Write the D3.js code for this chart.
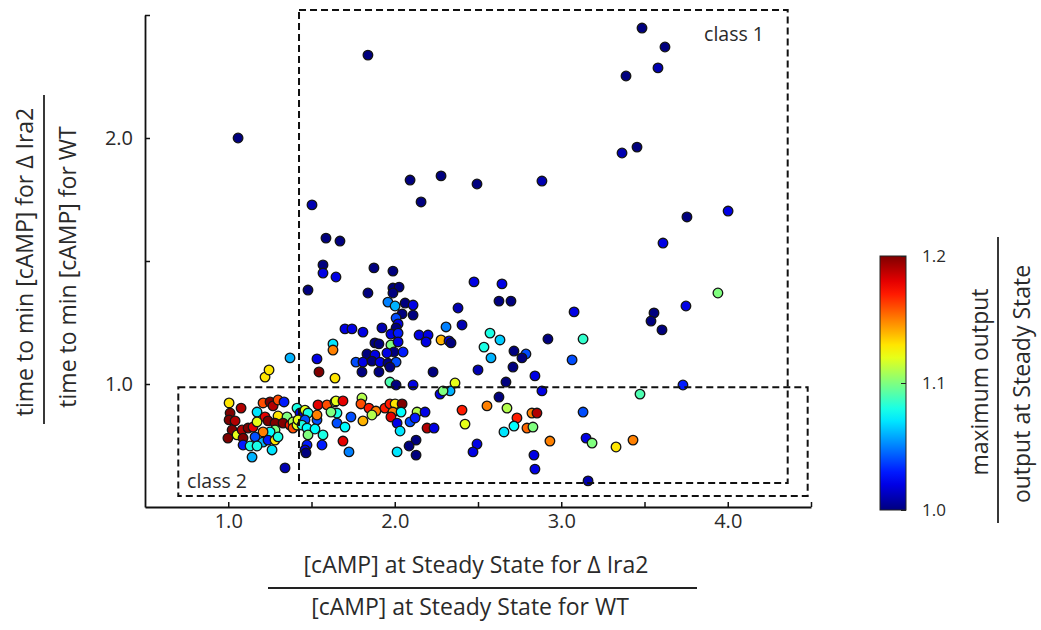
<!DOCTYPE html>
<html>
<head>
<meta charset="utf-8">
<script src="https://cdn.jsdelivr.net/npm/d3@7"></script>
<style>
  body { margin: 0; background: #fff; }
  text { font-family: "Open Sans", sans-serif; fill: #2a2a2a; }
</style>
</head>
<body>
<script>
// ratio of [cAMP] at steady state (dIra2 / WT)
const xVals = [
  1.059, 1.839, 1.503, 1.587, 1.671, 2.092, 2.158, 2.278, 2.494, 2.884,
  3.485, 3.623, 3.581, 3.389, 3.365, 3.455, 3.755, 4.002, 3.611, 2.476,
  2.644, 2.626, 2.698, 2.380, 2.404, 2.308, 2.278, 2.326, 2.338, 2.146,
  2.200, 2.188, 2.572, 2.536, 2.632, 2.578, 2.716, 2.788, 2.764, 2.710,
  2.920, 3.077, 3.131, 3.065, 2.230, 2.500, 2.668, 2.842, 2.110, 2.362,
  2.272, 2.332, 2.884, 2.626, 3.473, 3.731, 3.749, 3.557, 3.539, 3.605,
  3.941, 2.404, 2.422, 2.554, 2.674, 2.734, 2.716, 2.656, 2.824, 2.854,
  2.794, 2.830, 2.932, 3.131, 3.149, 3.185, 3.329, 3.431, 2.836, 2.842,
  3.161, 2.494, 2.470, 1.569, 1.569, 1.647, 1.875, 1.989, 1.839, 1.989,
  2.026, 1.989, 1.959, 2.002, 2.062, 2.110, 2.044, 2.110, 2.008, 2.020,
  2.008, 1.977, 2.020, 1.701, 1.743, 1.809, 1.923, 1.629, 1.629, 1.881,
  1.905, 1.977, 2.020, 1.995, 2.050, 1.833, 1.881, 1.953, 1.767, 1.809,
  1.863, 1.911, 1.959, 2.008, 1.803, 1.905, 1.971, 1.641, 1.479, 1.371,
  1.533, 1.545, 1.221, 1.245, 1.971, 2.008, 1.005, 1.077, 1.011, 1.005,
  1.041, 1.023, 1.053, 0.998, 1.083, 1.119, 1.149, 1.089, 1.209, 1.251,
  1.269, 1.299, 1.335, 1.173, 1.221, 1.239, 1.173, 1.299, 1.353, 1.281,
  1.329, 1.371, 1.389, 1.389, 1.413, 1.281, 1.251, 1.209, 1.161, 1.209,
  1.239, 1.281, 1.299, 1.089, 1.131, 1.173, 1.263, 1.143, 1.341, 1.413,
  1.431, 1.461, 1.479, 1.419, 1.461, 1.443, 1.473, 1.479, 1.473, 1.461,
  1.467, 1.533, 1.533, 1.539, 1.593, 1.641, 1.653, 1.653, 1.569, 1.563,
  1.521, 1.647, 1.689, 1.803, 1.797, 1.845, 1.887, 1.941, 1.971, 2.002,
  2.044, 1.989, 2.038, 1.977, 1.863, 1.809, 1.701, 1.737, 2.134, 2.182,
  2.092, 2.122, 2.014, 2.032, 2.194, 2.236, 2.128, 2.086, 2.128, 1.689,
  1.725, 2.014, 2.290, 1.617
];
// ratio of time to min [cAMP] (dIra2 / WT)
const yVals = [
  2.000, 2.337, 1.728, 1.593, 1.581, 1.829, 1.740, 1.846, 1.813, 1.825,
  2.447, 2.370, 2.285, 2.252, 1.939, 1.963, 1.679, 1.703, 1.573, 1.415,
  1.407, 1.337, 1.337, 1.309, 1.240, 1.232, 1.179, 1.175, 1.167, 1.199,
  1.199, 1.171, 1.207, 1.150, 1.179, 1.106, 1.134, 1.122, 1.106, 1.069,
  1.183, 1.293, 1.183, 1.098, 1.049, 1.057, 1.008, 1.033, 0.996, 1.004,
  0.959, 0.972, 0.972, 0.947, 0.959, 0.996, 1.317, 1.289, 1.256, 1.220,
  1.370, 0.894, 0.837, 0.911, 0.902, 0.862, 0.829, 0.805, 0.882, 0.882,
  0.821, 0.825, 0.768, 0.886, 0.780, 0.760, 0.744, 0.772, 0.711, 0.654,
  0.606, 0.756, 0.724, 1.484, 1.451, 1.435, 1.472, 1.459, 1.370, 1.390,
  1.394, 1.370, 1.333, 1.317, 1.329, 1.321, 1.285, 1.280, 1.268, 1.244,
  1.228, 1.203, 1.207, 1.224, 1.224, 1.211, 1.228, 1.163, 1.138, 1.167,
  1.163, 1.159, 1.171, 1.130, 1.130, 1.122, 1.118, 1.126, 1.089, 1.089,
  1.093, 1.089, 1.085, 1.089, 1.049, 1.049, 1.069, 1.024, 1.382, 1.106,
  1.102, 1.049, 1.028, 1.057, 1.008, 0.996, 0.923, 0.902, 0.882, 0.854,
  0.850, 0.813, 0.793, 0.780, 0.813, 0.821, 0.825, 0.780, 0.923, 0.927,
  0.911, 0.935, 0.927, 0.886, 0.866, 0.850, 0.846, 0.870, 0.866, 0.841,
  0.841, 0.833, 0.846, 0.821, 0.833, 0.813, 0.805, 0.805, 0.785, 0.764,
  0.772, 0.772, 0.785, 0.752, 0.748, 0.748, 0.732, 0.703, 0.659, 0.902,
  0.882, 0.894, 0.882, 0.854, 0.854, 0.833, 0.821, 0.793, 0.752, 0.732,
  0.720, 0.854, 0.874, 0.915, 0.915, 0.927, 0.882, 0.841, 0.793, 0.752,
  0.817, 0.931, 0.931, 0.943, 0.919, 0.902, 0.890, 0.902, 0.919, 0.919,
  0.919, 0.886, 0.886, 0.866, 0.874, 0.850, 0.825, 0.866, 0.886, 0.886,
  0.846, 0.862, 0.841, 0.809, 0.821, 0.821, 0.772, 0.748, 0.711, 0.768,
  0.724, 0.724, 0.972, 0.886
];
// maximum output / output at steady state
const cVals = [
  1.00, 1.00, 1.01, 1.00, 1.00, 1.00, 1.00, 1.00, 1.00, 1.01,
  1.00, 1.00, 1.01, 1.00, 1.01, 1.00, 1.00, 1.02, 1.02, 1.02,
  1.02, 1.00, 1.00, 1.01, 1.01, 1.05, 1.14, 1.02, 1.00, 1.02,
  1.02, 1.02, 1.08, 1.08, 1.065, 1.06, 1.00, 1.04, 1.00, 1.00,
  1.00, 1.02, 1.085, 1.04, 1.00, 1.01, 1.00, 1.02, 1.02, 1.12,
  1.02, 1.06, 1.02, 1.00, 1.09, 1.03, 1.02, 1.00, 1.00, 1.00,
  1.10, 1.17, 1.12, 1.15, 1.11, 1.17, 1.075, 1.07, 1.15, 1.19,
  1.155, 1.10, 1.15, 1.04, 1.02, 1.10, 1.13, 1.15, 1.02, 1.02,
  1.01, 1.02, 1.02, 1.00, 1.02, 1.02, 1.00, 1.00, 1.00, 1.00,
  1.00, 1.00, 1.05, 1.06, 1.00, 1.02, 1.00, 1.00, 1.04, 1.02,
  1.00, 1.02, 1.03, 1.02, 1.02, 1.02, 1.01, 1.07, 1.15, 1.00,
  1.00, 1.10, 1.02, 1.00, 1.03, 1.00, 1.02, 1.02, 1.04, 1.02,
  1.00, 1.02, 1.00, 1.04, 1.00, 1.00, 1.00, 1.13, 1.00, 1.06,
  1.02, 1.20, 1.13, 1.13, 1.09, 1.00, 1.13, 1.19, 1.20, 1.20,
  1.19, 1.20, 1.12, 1.20, 1.19, 1.20, 1.18, 1.20, 1.16, 1.20,
  1.19, 1.16, 1.03, 1.07, 1.18, 1.20, 1.12, 1.13, 1.10, 1.20,
  1.20, 1.17, 1.11, 1.16, 1.12, 1.10, 1.075, 1.15, 1.04, 1.06,
  1.03, 1.13, 1.08, 1.03, 1.08, 1.08, 1.07, 1.06, 1.01, 1.08,
  1.02, 1.12, 1.08, 1.12, 1.04, 1.08, 1.075, 1.10, 1.03, 1.02,
  1.00, 1.04, 1.15, 1.18, 1.16, 1.11, 1.08, 1.04, 1.08, 1.03,
  1.075, 1.12, 1.18, 1.11, 1.16, 1.17, 1.15, 1.17, 1.17, 1.13,
  1.20, 1.15, 1.075, 1.18, 1.11, 1.14, 1.075, 1.04, 1.11, 1.02,
  1.04, 1.03, 1.02, 1.07, 1.19, 1.02, 1.00, 1.00, 1.00, 1.18,
  1.05, 1.07, 1.10, 1.10
];

const xTicks = [1.0, 1.5, 2.0, 2.5, 3.0, 3.5, 4.0, 4.5];
const yTicks = [1.0, 1.5, 2.0, 2.5];
const cTicks = [1.0, 1.1, 1.2];

// dashed class regions, in data units
const classNames = ["class 1", "class 2"];
const classX = [[1.425, 4.36], [0.70, 4.48]];
const classY = [[0.598, 2.52], [0.545, 0.987]];

const width = 1041, height = 630;

const x = d3.scaleLinear().domain([0.5, 4.5]).range([145, 811]);
const y = d3.scaleLinear().domain([0.5, 2.5]).range([507, 15]);

// jet colour map over 1.0 .. 1.2
const jetStops = [0, 0.125, 0.375, 0.625, 0.875, 1];
const jetColors = ["#00007f", "#0000ff", "#00ffff", "#ffff00", "#ff0000", "#7f0000"];
const color = d3.scaleLinear()
    .domain(jetStops.map(t => 1.0 + 0.2 * t))
    .range(jetColors)
    .clamp(true);

const svg = d3.select("body").append("svg")
    .attr("width", width)
    .attr("height", height);

const points = xVals.map((d, i) => ({x: d, y: yVals[i], c: cVals[i]}));

// points
svg.append("g")
  .selectAll("circle")
  .data(points)
  .join("circle")
    .attr("cx", d => x(d.x))
    .attr("cy", d => y(d.y))
    .attr("r", 4.8)
    .attr("fill", d => color(d.c))
    .attr("stroke", "#141414")
    .attr("stroke-width", 1.3);

// dashed boxes on top
const boxes = svg.append("g");
classNames.forEach((name, i) => {
  boxes.append("rect")
      .attr("x", x(classX[i][0]))
      .attr("y", y(classY[i][1]))
      .attr("width", x(classX[i][1]) - x(classX[i][0]))
      .attr("height", y(classY[i][0]) - y(classY[i][1]))
      .attr("fill", "none")
      .attr("stroke", "#111")
      .attr("stroke-width", 2)
      .attr("stroke-dasharray", "7,4");
});
svg.append("text").attr("x", 734).attr("y", 41)
    .attr("text-anchor", "middle").style("font-size", "19.5px").text(classNames[0]);
svg.append("text").attr("x", 217).attr("y", 488)
    .attr("text-anchor", "middle").style("font-size", "19.5px").text(classNames[1]);

// axes
const xAxis = svg.append("g")
    .attr("transform", `translate(0,${y(0.5)})`)
    .call(d3.axisBottom(x)
      .tickValues(xTicks)
      .tickSizeInner(-5).tickSizeOuter(0).tickPadding(7)
      .tickFormat(d => Number.isInteger(d) ? d.toFixed(1) : ""));

const yAxis = svg.append("g")
    .attr("transform", `translate(${x(0.5)},0)`)
    .call(d3.axisLeft(y)
      .tickValues(yTicks)
      .tickSizeInner(-5).tickSizeOuter(0).tickPadding(12)
      .tickFormat(d => Number.isInteger(d) ? d.toFixed(1) : ""));

[xAxis, yAxis].forEach(g => {
  g.select(".domain").attr("stroke", "#111").attr("stroke-width", 1.8);
  g.selectAll(".tick line").attr("stroke", "#111").attr("stroke-width", 1.5);
  g.selectAll(".tick text").style("font-size", "20px").attr("fill", "#2a2a2a")
    .style("font-family", "'Open Sans', sans-serif");
});

// axis titles as fractions
svg.append("text").attr("x", 476).attr("y", 573).attr("text-anchor", "middle")
    .style("font-size", "23px").text("[cAMP] at Steady State for \u0394 Ira2");
svg.append("line").attr("x1", 268).attr("x2", 697).attr("y1", 588).attr("y2", 588)
    .attr("stroke", "#222").attr("stroke-width", 1.8);
svg.append("text").attr("x", 470).attr("y", 615).attr("text-anchor", "middle")
    .style("font-size", "23px").text("[cAMP] at Steady State for WT");

svg.append("text").attr("transform", "translate(33,262) rotate(-90)").attr("text-anchor", "middle")
    .style("font-size", "23px").text("time to min [cAMP] for \u0394 Ira2");
svg.append("line").attr("x1", 44).attr("x2", 44).attr("y1", 95).attr("y2", 424)
    .attr("stroke", "#222").attr("stroke-width", 1.8);
svg.append("text").attr("transform", "translate(76,267) rotate(-90)").attr("text-anchor", "middle")
    .style("font-size", "23px").text("time to min [cAMP] for WT");

// colour bar
const cb = d3.scaleLinear().domain([1.0, 1.2]).range([510, 256]);
const grad = svg.append("defs").append("linearGradient")
    .attr("id", "jet").attr("x1", 0).attr("y1", 1).attr("x2", 0).attr("y2", 0);
d3.range(0, 1.0001, 0.05).forEach(t => {
  grad.append("stop").attr("offset", t).attr("stop-color", color(1.0 + 0.2 * t));
});
svg.append("rect")
    .attr("x", 880).attr("y", cb(1.2)).attr("width", 26).attr("height", cb(1.0) - cb(1.2))
    .attr("fill", "url(#jet)").attr("stroke", "#222").attr("stroke-width", 1);
const cAxis = svg.append("g")
    .attr("transform", "translate(906,0)")
    .call(d3.axisRight(cb).tickValues(cTicks).tickSizeInner(-5).tickSizeOuter(0).tickPadding(16)
      .tickFormat(d3.format(".1f")));
cAxis.select(".domain").remove();
cAxis.selectAll(".tick line").attr("stroke", "#222").attr("stroke-width", 1);
cAxis.selectAll(".tick text").style("font-size", "17px").attr("fill", "#2a2a2a")
    .style("font-family", "'Open Sans', sans-serif");

svg.append("text").attr("transform", "translate(988,382) rotate(-90)").attr("text-anchor", "middle")
    .style("font-size", "23px").text("maximum output");
svg.append("line").attr("x1", 998).attr("x2", 998).attr("y1", 237).attr("y2", 523)
    .attr("stroke", "#222").attr("stroke-width", 1.8);
svg.append("text").attr("transform", "translate(1030,384) rotate(-90)").attr("text-anchor", "middle")
    .style("font-size", "23px").text("output at Steady State");
</script>
</body>
</html>
